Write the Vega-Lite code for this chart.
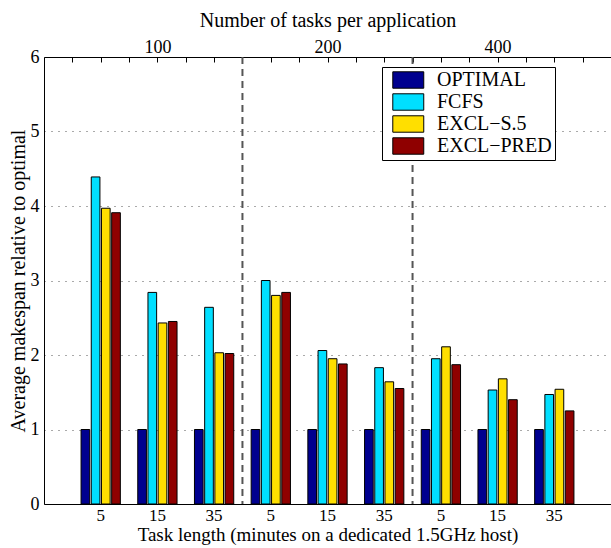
{
  "$schema": "https://vega.github.io/schema/vega-lite/v6.json",
  "width": 567,
  "height": 447,
  "autosize": {"type": "none"},
  "padding": {"left": 44, "top": 57, "right": 0, "bottom": 44},
  "config": {
    "font": "Liberation Serif",
    "view": {"stroke": null},
    "axis": {
      "labelFont": "Liberation Serif",
      "titleFont": "Liberation Serif",
      "labelFontSize": 18,
      "titleFontSize": 20,
      "titleFontWeight": "normal",
      "labelColor": "black",
      "titleColor": "black",
      "domainColor": "black",
      "tickColor": "black"
    },
    "legend": {
      "labelFont": "Liberation Serif",
      "labelFontSize": 20,
      "labelColor": "black"
    }
  },
  "layer": [
    {
      "data": {
        "values": [
          {"cell": "100|5", "scheme": "OPTIMAL", "value": 1},
          {"cell": "100|5", "scheme": "FCFS", "value": 4.39},
          {"cell": "100|5", "scheme": "EXCL−S.5", "value": 3.97},
          {"cell": "100|5", "scheme": "EXCL−PRED", "value": 3.91},
          {"cell": "100|15", "scheme": "OPTIMAL", "value": 1},
          {"cell": "100|15", "scheme": "FCFS", "value": 2.84},
          {"cell": "100|15", "scheme": "EXCL−S.5", "value": 2.43},
          {"cell": "100|15", "scheme": "EXCL−PRED", "value": 2.45},
          {"cell": "100|35", "scheme": "OPTIMAL", "value": 1},
          {"cell": "100|35", "scheme": "FCFS", "value": 2.64},
          {"cell": "100|35", "scheme": "EXCL−S.5", "value": 2.03},
          {"cell": "100|35", "scheme": "EXCL−PRED", "value": 2.02},
          {"cell": "200|5", "scheme": "OPTIMAL", "value": 1},
          {"cell": "200|5", "scheme": "FCFS", "value": 3.0},
          {"cell": "200|5", "scheme": "EXCL−S.5", "value": 2.8},
          {"cell": "200|5", "scheme": "EXCL−PRED", "value": 2.84},
          {"cell": "200|15", "scheme": "OPTIMAL", "value": 1},
          {"cell": "200|15", "scheme": "FCFS", "value": 2.06},
          {"cell": "200|15", "scheme": "EXCL−S.5", "value": 1.95},
          {"cell": "200|15", "scheme": "EXCL−PRED", "value": 1.88},
          {"cell": "200|35", "scheme": "OPTIMAL", "value": 1},
          {"cell": "200|35", "scheme": "FCFS", "value": 1.83},
          {"cell": "200|35", "scheme": "EXCL−S.5", "value": 1.64},
          {"cell": "200|35", "scheme": "EXCL−PRED", "value": 1.55},
          {"cell": "400|5", "scheme": "OPTIMAL", "value": 1},
          {"cell": "400|5", "scheme": "FCFS", "value": 1.95},
          {"cell": "400|5", "scheme": "EXCL−S.5", "value": 2.11},
          {"cell": "400|5", "scheme": "EXCL−PRED", "value": 1.87},
          {"cell": "400|15", "scheme": "OPTIMAL", "value": 1},
          {"cell": "400|15", "scheme": "FCFS", "value": 1.53},
          {"cell": "400|15", "scheme": "EXCL−S.5", "value": 1.68},
          {"cell": "400|15", "scheme": "EXCL−PRED", "value": 1.4},
          {"cell": "400|35", "scheme": "OPTIMAL", "value": 1},
          {"cell": "400|35", "scheme": "FCFS", "value": 1.47},
          {"cell": "400|35", "scheme": "EXCL−S.5", "value": 1.54},
          {"cell": "400|35", "scheme": "EXCL−PRED", "value": 1.25}
        ]
      },
      "mark": {"type": "bar", "stroke": "black", "strokeWidth": 1},
      "encoding": {
        "x": {
          "field": "cell",
          "type": "nominal",
          "sort": ["100|5", "100|15", "100|35", "200|5", "200|15", "200|35", "400|5", "400|15", "400|35"],
          "scale": {"paddingInner": 0.28, "paddingOuter": 0.64},
          "axis": {
            "orient": "bottom",
            "title": "Task length (minutes on a dedicated 1.5GHz host)",
            "labelExpr": "split(datum.value, '|')[1]",
            "labelAngle": 0,
            "ticks": false,
            "grid": false,
            "labelFontSize": 17,
            "labelPadding": 3,
            "titlePadding": 2,
            "titleFontSize": 19
          }
        },
        "xOffset": {
          "field": "scheme",
          "type": "nominal",
          "sort": ["OPTIMAL", "FCFS", "EXCL−S.5", "EXCL−PRED"],
          "scale": {"paddingInner": 0.15, "paddingOuter": 0.075}
        },
        "y": {
          "field": "value",
          "type": "quantitative",
          "scale": {"domain": [0, 6], "nice": false},
          "axis": {
            "title": "Average makespan relative to optimal",
            "values": [0, 1, 2, 3, 4, 5, 6],
            "ticks": false,
            "labelPadding": 5,
            "titlePadding": 2,
            "grid": true,
            "gridDash": [1, 6],
            "gridColor": "#555555",
            "gridWidth": 1
          }
        },
        "color": {
          "field": "scheme",
          "type": "nominal",
          "sort": ["OPTIMAL", "FCFS", "EXCL−S.5", "EXCL−PRED"],
          "scale": {
            "domain": ["OPTIMAL", "FCFS", "EXCL−S.5", "EXCL−PRED"],
            "range": ["#00008F", "#00DFFF", "#FFDF00", "#8F0000"]
          },
          "legend": {
            "title": null,
            "orient": "none",
            "legendX": 338,
            "legendY": 10,
            "padding": 3,
            "fillColor": "white",
            "strokeColor": "black",
            "symbolType": "M-0.27,-1H3.5V1H-0.27Z",
            "symbolSize": 270,
            "symbolStrokeColor": "black",
            "symbolStrokeWidth": 1,
            "symbolOpacity": 1,
            "labelOffset": 32,
            "rowPadding": 0
          }
        }
      }
    },
    {
      "data": {"values": [{"sep": 3.5}, {"sep": 6.5}]},
      "mark": {"type": "rule", "color": "#555555", "strokeWidth": 2, "strokeDash": [7, 5]},
      "encoding": {
        "x": {
          "field": "sep",
          "type": "quantitative",
          "scale": {"domain": [0, 10], "nice": false, "zero": false},
          "axis": {
            "orient": "top",
            "title": "Number of tasks per application",
            "values": [0.5, 1, 1.5, 2, 2.5, 3, 3.5, 4, 4.5, 5, 5.5, 6, 6.5, 7, 7.5, 8, 8.5, 9, 9.5],
            "labelExpr": "datum.value == 2 ? '100' : datum.value == 5 ? '200' : datum.value == 8 ? '400' : ''",
            "tickSize": -5,
            "labelPadding": 6,
            "titlePadding": 8,
            "grid": false,
            "labelFlush": false,
            "labelOverlap": false
          }
        }
      }
    }
  ],
  "resolve": {"scale": {"x": "independent"}, "axis": {"x": "independent"}}
}
